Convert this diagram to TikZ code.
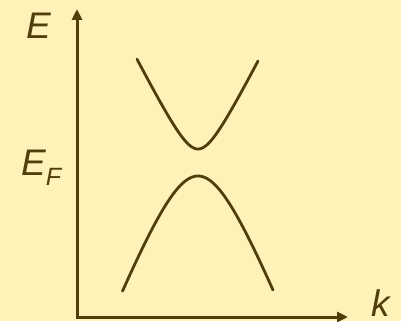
\documentclass[tikz,border=0pt]{standalone}
\usepackage{fontspec}
\setmainfont{Liberation Sans}
\usetikzlibrary{arrows.meta}
\definecolor{bgc}{RGB}{255,242,184}
\definecolor{ink}{RGB}{80,63,12}
\tikzset{
  axis/.style={draw=ink, line width=3pt, line join=miter,
    {Triangle[length=11pt,width=10pt]}-{Triangle[length=11pt,width=10pt]}},
  band/.style={draw=ink, line width=2.8pt, line cap=round},
  lbl/.style={text=ink, inner sep=0pt, font=\fontsize{37}{40}\selectfont\itshape}
}
\begin{document}
\begin{tikzpicture}[x=1pt,y=-1pt]
  \fill[bgc] (0,0) rectangle (401,321);
  \useasboundingbox (0,0) rectangle (401,321);
  \coordinate (O) at (77,317);
  \coordinate (ytip) at (77,9);
  \coordinate (xtip) at (348,317);
  \draw[axis] (ytip) -- (O) -- (xtip);
  % conduction band
  \draw[band] plot[domain=-61:60, samples=90, smooth]
    ({198+\x},{149-35*(sqrt(1+3.86*(\x/35)*(\x/35))-1)});
  % valence band
  \draw[band] plot[domain=-75.5:75, samples=90, smooth]
    ({198+\x},{176+100*(sqrt(1+6.364*(\x/100)*(\x/100))-1)});
  \node[lbl] (E) at (38.5,25.5) {E};
  \node[lbl, anchor=base west] (EF) at (21,175) {E\raisebox{-10pt}{\fontsize{25}{28}\selectfont F}};
  \node[lbl] (k) at (381,303.5) {k};
\end{tikzpicture}
\end{document}
